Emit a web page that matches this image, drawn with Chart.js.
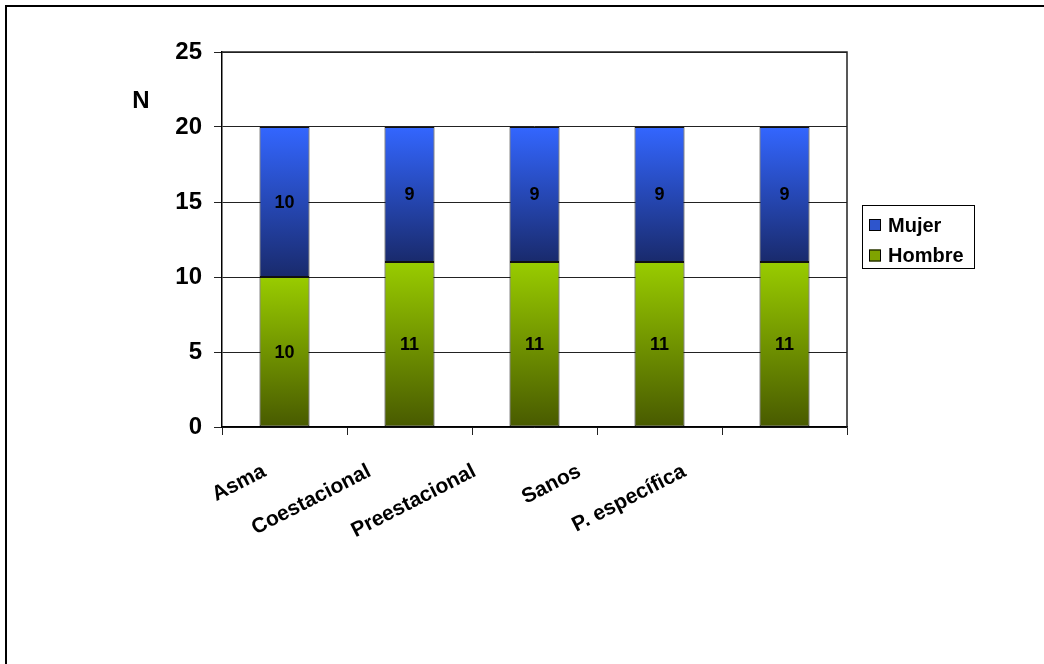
<!DOCTYPE html>
<html>
<head>
<meta charset="utf-8">
<script src="https://cdn.jsdelivr.net/npm/chart.js@4/dist/chart.umd.min.js"></script>
<style>
  html, body { margin: 0; padding: 0; background: #ffffff; }
  canvas { display: block; }
</style>
</head>
<body>
<canvas id="c" width="1044" height="664"></canvas>
<script>
// Group sizes by sex for each study group
const categories = ['Asma', 'Coestacional', 'Preestacional', 'Sanos', 'P. específica'];
const hombre = [10, 11, 11, 11, 11];
const mujer = [10, 9, 9, 9, 9];
const seriesNames = ['Hombre', 'Mujer'];
const yMax = 25;
const yStep = 5;
const yTitle = 'N';

const FONT = "'Liberation Sans', Arial, sans-serif";

// vertical shading of each bar segment, light at its top, dark at its base
const shades = {
  Hombre: { top: '#99CC00', bottom: '#485A00', swatch: '#7FA300' },
  Mujer:  { top: '#3366FF', bottom: '#192A6C', swatch: '#2E55CC' }
};

function segmentFill(c) {
  const chart = c.chart;
  const name = chart.data.datasets[c.datasetIndex].label;
  const sh = shades[name];
  if (!chart.chartArea || c.type !== 'data') return sh.swatch;
  let base = 0;
  for (let d = 0; d < c.datasetIndex; d++) base += chart.data.datasets[d].data[c.dataIndex];
  const y = chart.scales.y;
  const yTop = y.getPixelForValue(base + c.raw);
  const yBase = y.getPixelForValue(base);
  const g = chart.ctx.createLinearGradient(0, yTop, 0, yBase);
  g.addColorStop(0, sh.top);
  g.addColorStop(1, sh.bottom);
  return g;
}

const barStyle = {
  barPercentage: 0.4,
  categoryPercentage: 1,
  backgroundColor: segmentFill,
  borderColor: '#111111',
  borderWidth: 1,
  borderSkipped: false
};

// outer frame, plot frame, axis title and the boxed legend
const decorations = {
  id: 'decorations',
  beforeDraw(chart) {
    const { ctx } = chart;
    ctx.save();
    ctx.fillStyle = '#ffffff';
    ctx.fillRect(0, 0, chart.width, chart.height);
    ctx.strokeStyle = '#000000';
    ctx.lineWidth = 2;
    ctx.strokeRect(6, 6, chart.width + 20, chart.height + 20);
    ctx.restore();

    // category labels sit on a slightly tighter pitch than the bars
    const xs = chart.scales.x;
    const items = xs.getLabelItems(chart.chartArea);
    items.forEach((it, i) => {
      if (it._moved) return;
      it.options.translation[0] -= 20 + 20 * i;
      it._moved = true;
    });
  },
  afterDraw(chart) {
    const { ctx, chartArea: a } = chart;
    ctx.save();
    ctx.strokeStyle = '#222222';
    ctx.lineWidth = 1.5;
    ctx.beginPath();
    ctx.moveTo(a.left, a.top);
    ctx.lineTo(a.right, a.top);
    ctx.lineTo(a.right, a.bottom);
    ctx.stroke();

    ctx.fillStyle = '#000000';
    ctx.font = 'bold 24px ' + FONT;
    ctx.textAlign = 'center';
    ctx.textBaseline = 'middle';
    ctx.fillText(yTitle, 141, 101);

    // legend
    const lx = 862, ly = 205, lw = 112, lh = 63;
    ctx.lineWidth = 1;
    ctx.strokeStyle = '#000000';
    ctx.strokeRect(lx + 0.5, ly + 0.5, lw, lh);
    const order = ['Mujer', 'Hombre'];
    ctx.font = 'bold 20px ' + FONT;
    ctx.textAlign = 'left';
    order.forEach((name, k) => {
      const cy = ly + 20 + k * 30.5;
      ctx.fillStyle = shades[name].swatch;
      ctx.fillRect(869, cy - 6, 12, 12);
      ctx.strokeStyle = '#000000';
      ctx.strokeRect(869.5, cy - 5.5, 11, 11);
      ctx.fillStyle = '#000000';
      ctx.fillText(name, 888, cy + 1);
    });
    ctx.restore();
  }
};

// value written in the middle of each segment
const segmentValues = {
  id: 'segmentValues',
  afterDatasetsDraw(chart) {
    const { ctx } = chart;
    ctx.save();
    ctx.fillStyle = '#000000';
    ctx.font = 'bold 18px ' + FONT;
    ctx.textAlign = 'center';
    ctx.textBaseline = 'middle';
    chart.data.datasets.forEach((ds, d) => {
      const meta = chart.getDatasetMeta(d);
      meta.data.forEach((el, i) => {
        ctx.fillText(String(ds.data[i]), el.x, (el.y + el.base) / 2 + 1);
      });
    });
    ctx.restore();
  }
};

new Chart(document.getElementById('c'), {
  type: 'bar',
  data: {
    labels: categories,
    datasets: [
      Object.assign({ label: seriesNames[0], data: hombre }, barStyle),
      Object.assign({ label: seriesNames[1], data: mujer }, barStyle)
    ]
  },
  options: {
    responsive: false,
    animation: false,
    devicePixelRatio: 1,
    layout: { padding: { top: 52, right: 197, left: 0, bottom: 0 } },
    plugins: {
      legend: { display: false },
      tooltip: { enabled: false },
      colors: { enabled: false }
    },
    scales: {
      x: {
        stacked: true,
        offset: true,
        afterFit(s) { s.height = 664 - 427; },
        border: { display: true, color: '#000000', width: 1.5 },
        grid: {
          display: true,
          offset: true,
          drawOnChartArea: false,
          drawTicks: true,
          tickLength: 8,
          color: '#222222',
          lineWidth: 1
        },
        ticks: {
          autoSkip: false,
          minRotation: 27,
          maxRotation: 27,
          padding: 24,
          color: '#000000',
          font: { family: FONT, size: 21, weight: 'bold' }
        }
      },
      y: {
        stacked: true,
        min: 0,
        max: yMax,
        afterFit(s) { s.width = 222; },
        border: { display: true, color: '#000000', width: 1.5 },
        grid: {
          color: '#222222',
          lineWidth: 1,
          drawTicks: true,
          tickLength: 8
        },
        ticks: {
          stepSize: yStep,
          padding: 12,
          color: '#000000',
          font: { family: FONT, size: 24, weight: 'bold' }
        }
      }
    }
  },
  plugins: [decorations, segmentValues]
});
</script>
</body>
</html>
